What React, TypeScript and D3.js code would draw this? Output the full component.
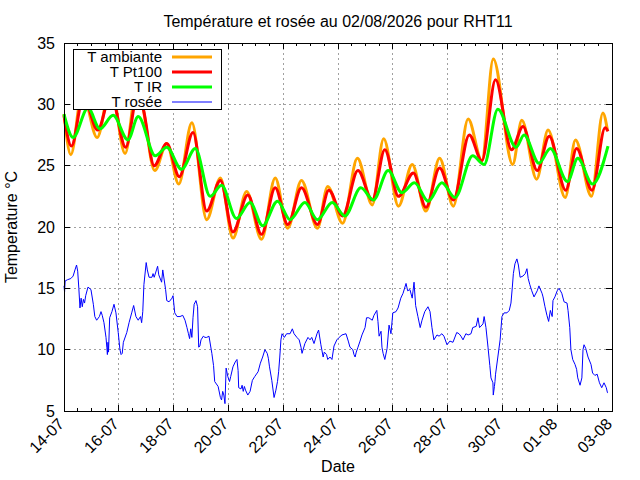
import React, { useRef, useEffect } from 'react';
import * as d3 from 'd3';

const WIDTH = 640;
const HEIGHT = 480;
const START = new Date(Date.UTC(2026, 6, 14));
const END = new Date(Date.UTC(2026, 7, 3));

const title = 'Température et rosée au 02/08/2026 pour RHT11';
const yLabel = 'Temperature °C';
const xLabel = 'Date';
const yTicks = [5, 10, 15, 20, 25, 30, 35];
const seriesNames = ['T ambiante', 'T Pt100', 'T IR', 'T rosée'];
const seriesColors = ['#ffa500', '#ff0000', '#00ff00', '#0000ff'];
const seriesWidths = [3, 3, 3, 1];

// [hours since 14-07 00:00, °C]
const tAmbiante: [number, number][] = [
  [0, 29.2], [6, 25.9], [16, 31.0], [29, 27.3], [41, 31.5], [53.5, 26.0], [64, 31.6], [69, 29.8],
  [79.5, 24.6], [90, 26.8], [100.5, 23.5], [112, 28.5], [125, 20.6], [137, 24.0], [148, 19.1],
  [160, 22.9], [173, 19.0], [185, 24.0], [196, 19.9], [208, 23.8], [222, 19.9], [231, 23.3],
  [244, 20.3], [257, 25.6], [270, 21.8], [280, 27.2], [293, 21.7], [305, 25.1], [317, 21.3],
  [329, 25.6], [341, 21.7], [354, 28.8], [366, 25.4], [376, 33.7], [393, 25.1], [401, 28.7],
  [414, 23.9], [424, 27.9], [439, 22.4], [448, 27.1], [462, 22.5], [472, 29.3], [476, 27.9],
];

const tPt100: [number, number][] = [
  [0, 29.1], [6.5, 26.6], [17, 30.6], [29.5, 27.9], [41, 30.8], [54, 26.5], [65, 31.0], [69.5, 29.6],
  [79, 25.0], [90, 26.8], [101, 24.1], [113, 27.7], [125, 21.3], [137, 23.8], [148, 19.6],
  [161, 22.6], [173, 19.4], [185, 23.2], [196, 20.2], [208, 23.2], [222, 20.2], [232, 23.0],
  [244, 20.9], [257.5, 24.6], [270, 22.2], [281, 26.3], [293, 22.5], [306, 24.4], [317, 21.6],
  [329, 24.8], [341, 22.2], [355, 27.5], [366, 25.4], [378, 32.0], [392, 26.3], [402, 28.2],
  [414.5, 24.6], [425, 27.4], [439.5, 23.0], [449, 26.4], [462.5, 23.0], [474, 28.1], [476.5, 27.8],
];

const tIR: [number, number][] = [
  [0, 29.2], [8, 27.3], [21, 29.7], [31.5, 28.0], [43, 29.1], [56, 27.1], [65, 29.0], [80, 25.8],
  [90, 26.5], [103, 24.7], [115, 26.4], [128, 22.5], [138, 23.4], [151, 20.7], [163, 22.0],
  [174, 20.1], [187, 22.1], [198, 20.6], [211, 22.0], [222, 20.6], [235, 22.0], [246, 20.9],
  [260, 23.2], [271, 22.2], [284, 24.6], [296, 22.8], [307, 23.6], [319, 22.1], [331, 23.6],
  [342.5, 22.4], [358, 25.8], [368, 25.1], [380, 29.6], [396, 26.5], [403, 27.5], [416, 25.2],
  [426, 26.4], [441, 23.7], [450, 25.6], [463, 23.5], [476.5, 26.6],
];

const tRosee: [number, number][] = [
  [0, 15.2], [0.5, 14.7], [1, 15.6], [3, 15.7], [6, 15.8], [8, 16.0], [9.6, 16.5], [11, 16.9],
  [12, 16.4], [13, 15.0], [14, 13.4], [15, 14.2], [16, 13.5], [17, 14.1], [18, 13.8], [19, 14.4],
  [21, 15.1], [23.6, 14.9], [25.7, 13.7], [27, 12.7], [28.6, 12.4], [31, 12.7], [32.4, 13.1],
  [33.5, 12.8], [35, 12.2], [36.8, 11.0], [37.5, 10.2], [38, 9.6], [38.5, 10.6], [39, 9.8],
  [40, 12.6], [42, 13.1], [43.8, 13.7], [45.5, 13.0], [47.5, 11.4], [49, 10.0], [50, 9.6],
  [51, 9.7], [52, 10.6], [55, 11.4], [57, 12.2], [59.3, 13.0], [61, 13.6], [63, 12.7], [65, 12.4],
  [67, 12.7], [68, 12.2], [69, 13.1], [70, 15.3], [72, 17.1], [73, 16.5], [74.5, 15.9], [77, 15.9],
  [78, 16.2], [79, 15.9], [81, 16.5], [82, 16.8], [83, 16.1], [85.5, 15.5], [86.5, 16.5], [89, 14.9],
  [90, 14.0], [92, 13.9], [94.6, 14.2], [95.5, 14.4], [97, 13.0], [99, 12.7], [101.6, 12.7],
  [104, 12.8], [106, 12.4], [107.7, 11.8], [109, 11.3], [110, 10.9], [111, 11.7], [112, 11.0],
  [113, 12.6], [114, 13.7], [115.6, 14.0], [117, 13.5], [118, 10.2], [119, 10.3], [120, 10.8],
  [122, 11.1], [123.5, 11.0], [125, 11.0], [127, 11.1], [129.5, 9.7], [131, 8.7], [132, 7.4],
  [135, 7.0], [137, 6.1], [138, 5.9], [139, 6.6], [140, 6.3], [141, 5.6], [142, 8.5], [143.5, 7.8],
  [145, 7.4], [146, 7.8], [148, 8.6], [150, 9.0], [151.5, 9.2], [152.5, 8.3], [153, 6.9], [155, 6.8],
  [156, 7.1], [157, 6.6], [158, 7.0], [159, 6.7], [161, 6.3], [163, 6.6], [165, 7.5], [167, 7.8],
  [170, 8.2], [172, 8.9], [174, 9.4], [176, 10.0], [178, 9.7], [179, 9.3], [180, 8.6], [182, 7.5],
  [184, 6.1], [185.6, 6.7], [187, 7.4], [188, 8.2], [189, 9.4], [190, 10.8], [191, 11.3], [193, 11.0],
  [195, 11.3], [198, 11.3], [200, 11.7], [201.5, 11.3], [204, 11.0], [206, 10.8], [207.6, 10.2],
  [208.5, 9.7], [211, 10.5], [213.7, 11.0], [215.5, 10.8], [217, 11.0], [219, 10.5], [221.6, 11.3],
  [223, 11.6], [225, 10.4], [227, 9.4], [228, 9.8], [230, 9.6], [231, 9.2], [233, 9.4], [234.7, 9.2],
  [236.5, 10.3], [239, 10.8], [241, 11.0], [243.5, 11.2], [247, 11.3], [249, 10.7], [250.5, 10.2],
  [253, 10.0], [254, 9.6], [255, 9.4], [256, 9.8], [257.5, 10.2], [259.3, 10.7], [261, 11.2],
  [263.7, 11.8], [265, 12.6], [267, 12.6], [270, 12.4], [271.5, 12.8], [274, 13.2], [275, 12.3],
  [276, 11.1], [277.7, 11.5], [278.5, 10.2], [279.5, 9.7], [281, 9.2], [283, 10.1], [284.7, 12.0],
  [286.4, 11.3], [288, 13.0], [290.8, 13.1], [292.6, 13.4], [295, 14.2], [297, 14.6], [299.6, 15.4],
  [301, 14.8], [303, 14.9], [305, 14.2], [306.6, 15.5], [308, 13.6], [310, 12.7], [312, 11.8],
  [313.6, 12.4], [316, 13.1], [318.8, 13.5], [320.6, 13.1], [322.3, 11.8], [324, 10.8], [326.7, 11.2],
  [328.5, 11.1], [331, 11.3], [332.8, 11.1], [335.5, 10.4], [338, 10.7], [340.7, 10.6], [344, 11.4],
  [346, 11.3], [347.7, 11.1], [349.5, 10.8], [352, 11.3], [354, 11.2], [356.5, 11.3], [358, 11.8],
  [361, 11.9], [362.6, 12.6], [364, 11.8], [367, 12.1], [368, 12.7], [369.6, 11.8], [371.4, 10.2],
  [373, 8.7], [374, 7.7], [375.7, 7.3], [376, 6.3], [377, 7.0], [377.5, 7.4], [378, 8.0], [380, 9.4],
  [382, 10.8], [383.6, 12.7], [385.5, 13.0], [388, 13.0], [390, 13.2], [391.5, 13.8], [392.7, 15.1],
  [393.6, 16.2], [395, 17.0], [396.7, 17.4], [398, 16.9], [399.5, 15.9], [402, 16.0], [404, 16.2],
  [405.5, 16.6], [406.6, 15.8], [408, 15.3], [409.7, 14.8], [411.7, 14.3], [414.5, 14.8], [416, 15.2],
  [418.7, 14.6], [419.6, 14.3], [421.3, 13.5], [423, 12.8], [424.5, 12.3], [426, 13.2], [427.6, 12.7],
  [428.3, 14.0], [430, 14.3], [432, 14.8], [433.6, 15.0], [436, 14.6], [438, 13.9], [440.6, 13.8],
  [441.5, 13.2], [443, 11.8], [444, 10.0], [445.6, 9.2], [447.6, 8.8], [449, 8.4], [450, 7.7],
  [452, 7.1], [453.6, 7.7], [454.6, 10.0], [455.5, 10.4], [457, 10.1], [459, 9.4], [461.6, 8.8],
  [463, 8.1], [465, 7.9], [467, 8.0], [469, 7.3], [471, 6.9], [473, 7.3], [475, 6.9], [476, 6.5],
  [476.5, 6.5],
];

const allSeries = [tAmbiante, tPt100, tIR, tRosee];

const FONT = "'Liberation Sans', Arial, sans-serif";

export default function App() {
  const svgRef = useRef<SVGSVGElement>(null);

  useEffect(() => {
    if (!svgRef.current) return;
    const svg = d3.select(svgRef.current);
    svg.selectAll('*').remove();

    const left = 64, right = 612, top = 43, bottom = 411;
    const x = d3.scaleUtc().domain([START, END]).range([left, right]);
    const y = d3.scaleLinear().domain([5, 35]).range([bottom, top]);
    const toDate = (h: number) => new Date(START.getTime() + h * 3600e3);

    const majorX = d3.range(0, 11).map(i => d3.utcDay.offset(START, 2 * i));
    const minorX = d3.utcHour.every(12)!.range(START, END).filter(d => !majorX.some(m => +m === +d));
    const fmt = d3.utcFormat('%d-%m');

    svg.append('rect').attr('width', WIDTH).attr('height', HEIGHT).attr('fill', '#fff');

    // grid
    const grid = svg.append('g')
      .attr('stroke', '#a0a0a0')
      .attr('stroke-width', 1)
      .attr('stroke-dasharray', '2,3')
      .attr('shape-rendering', 'crispEdges');
    majorX.slice(1, -1).forEach(d => {
      grid.append('line').attr('x1', x(d)).attr('x2', x(d)).attr('y1', top).attr('y2', bottom);
    });
    yTicks.slice(1, -1).forEach(v => {
      grid.append('line').attr('x1', left).attr('x2', right).attr('y1', y(v)).attr('y2', y(v));
    });

    // series
    const smooth = d3.line<[number, number]>()
      .x(d => x(toDate(d[0])))
      .y(d => y(d[1]))
      .curve(d3.curveMonotoneX);
    const raw = d3.line<[number, number]>()
      .x(d => x(toDate(d[0])))
      .y(d => y(d[1]));

    allSeries.forEach((s, i) => {
      svg.append('path')
        .attr('d', (i < 3 ? smooth : raw)(s))
        .attr('fill', 'none')
        .attr('stroke', seriesColors[i])
        .attr('stroke-width', seriesWidths[i])
        .attr('stroke-linejoin', 'round');
    });

    // border and ticks
    const axes = svg.append('g').attr('stroke', '#000').attr('stroke-width', 1).attr('shape-rendering', 'crispEdges');
    axes.append('rect')
      .attr('x', left).attr('y', top)
      .attr('width', right - left).attr('height', bottom - top)
      .attr('fill', 'none');
    majorX.forEach(d => {
      axes.append('line').attr('x1', x(d)).attr('x2', x(d)).attr('y1', bottom).attr('y2', bottom - 6);
      axes.append('line').attr('x1', x(d)).attr('x2', x(d)).attr('y1', top).attr('y2', top + 6);
    });
    minorX.forEach(d => {
      axes.append('line').attr('x1', x(d)).attr('x2', x(d)).attr('y1', bottom).attr('y2', bottom - 3);
      axes.append('line').attr('x1', x(d)).attr('x2', x(d)).attr('y1', top).attr('y2', top + 3);
    });
    yTicks.forEach(v => {
      axes.append('line').attr('x1', left).attr('x2', left + 6).attr('y1', y(v)).attr('y2', y(v));
      axes.append('line').attr('x1', right).attr('x2', right - 6).attr('y1', y(v)).attr('y2', y(v));
    });

    const text = svg.append('g').attr('font-family', FONT).attr('font-size', 16).attr('fill', '#000');

    yTicks.forEach(v => {
      text.append('text')
        .attr('x', left - 9).attr('y', y(v)).attr('dy', '0.36em')
        .attr('text-anchor', 'end')
        .text(v);
    });
    majorX.forEach(d => {
      text.append('text')
        .attr('text-anchor', 'end')
        .attr('transform', `translate(${x(d) + 1},${bottom + 14}) rotate(-45)`)
        .text(fmt(d));
    });

    text.append('text')
      .attr('x', (left + right) / 2).attr('y', 27)
      .attr('text-anchor', 'middle')
      .text(title);
    text.append('text')
      .attr('x', (left + right) / 2).attr('y', 472)
      .attr('text-anchor', 'middle')
      .text(xLabel);
    text.append('text')
      .attr('text-anchor', 'middle')
      .attr('transform', `translate(17,${(top + bottom) / 2}) rotate(-90)`)
      .text(yLabel);

    // legend (opaque box)
    const legend = svg.append('g');
    legend.append('rect')
      .attr('x', 73).attr('y', 49).attr('width', 148).attr('height', 60)
      .attr('fill', '#fff').attr('stroke', '#000').attr('shape-rendering', 'crispEdges');
    seriesNames.forEach((name, i) => {
      const ly = 57 + i * 15;
      legend.append('text')
        .attr('x', 162).attr('y', ly).attr('dy', '0.36em')
        .attr('text-anchor', 'end')
        .attr('font-family', FONT).attr('font-size', 15)
        .text(name);
      legend.append('line')
        .attr('x1', 172).attr('x2', 212).attr('y1', ly).attr('y2', ly)
        .attr('stroke', seriesColors[i])
        .attr('stroke-width', seriesWidths[i]);
    });
  }, []);

  return (
    <svg
      ref={svgRef}
      width={WIDTH}
      height={HEIGHT}
      style={{ position: 'absolute', left: 0, top: 0 }}
    />
  );
}
